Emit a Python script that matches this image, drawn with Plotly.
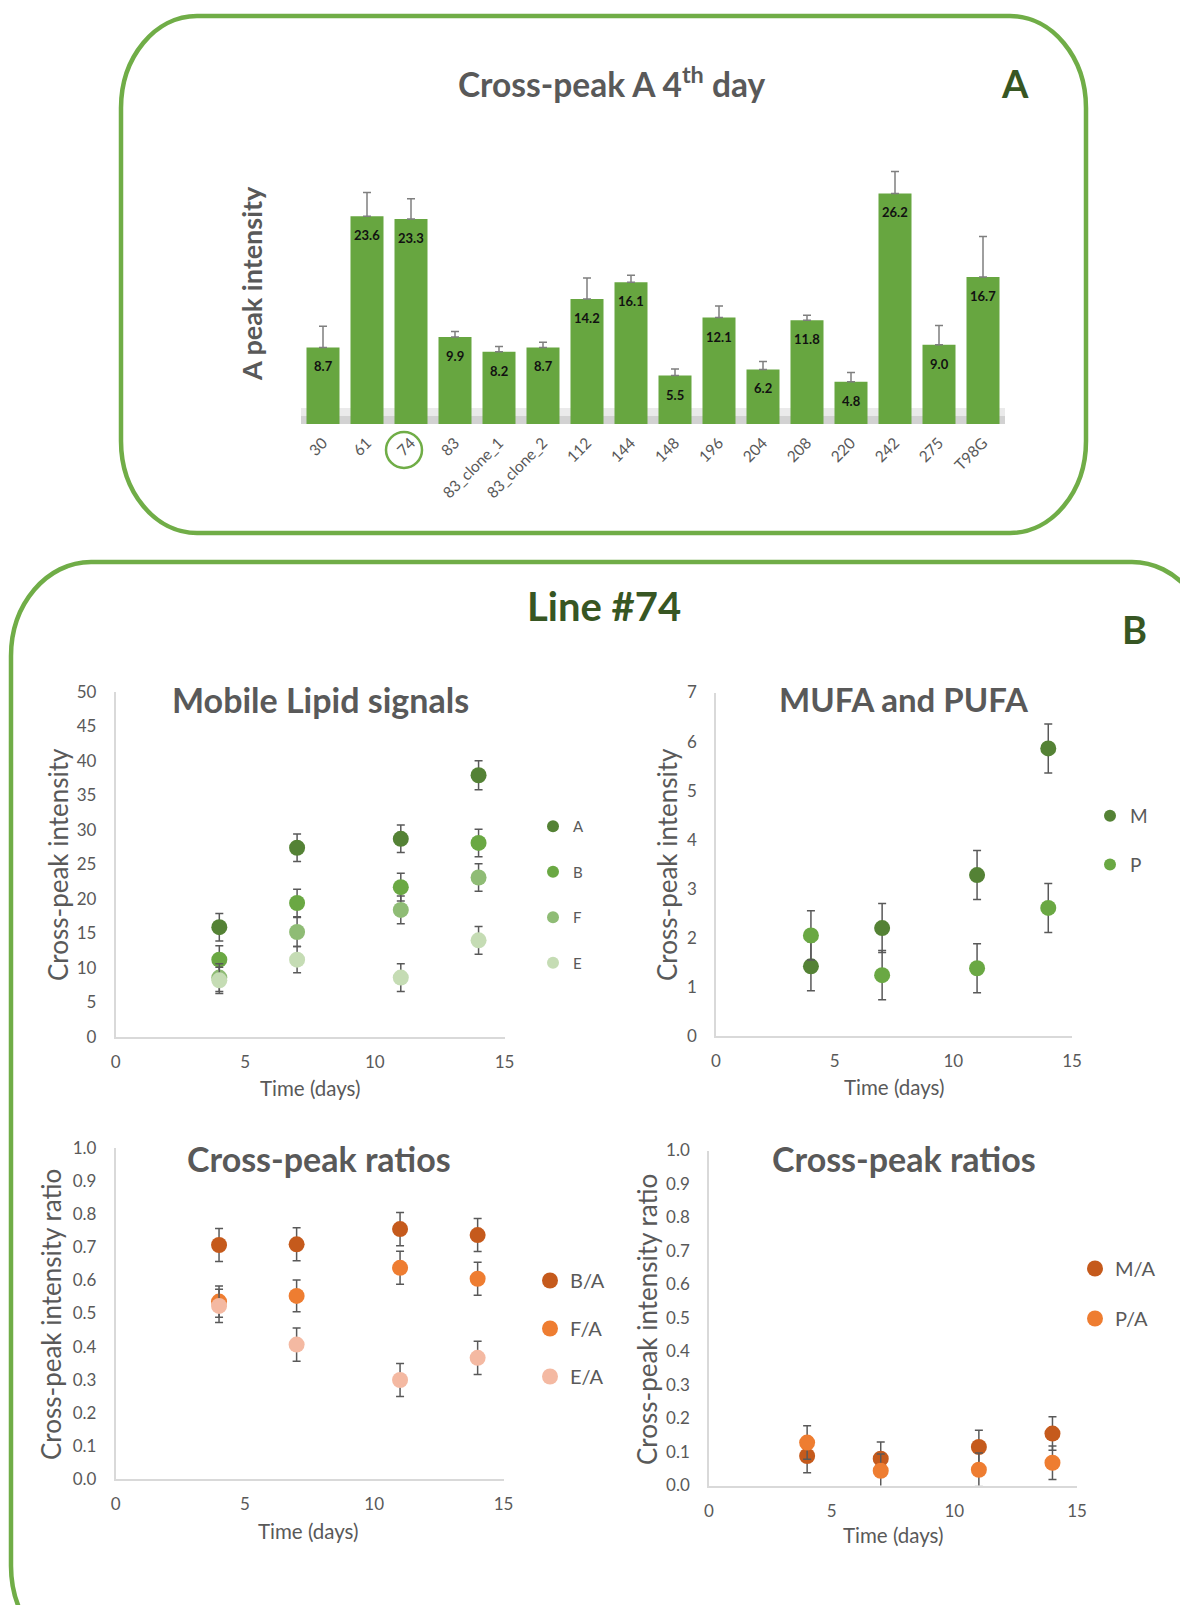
import plotly.graph_objects as go

# page body has an 8px margin: compensate so targets are in window pixels
OFF = 8
W, H = 1188 - OFF, 1605 - OFF
def fx(px): return (px - OFF) / W
def fy(py): return 1 - (py - OFF) / H

# ---------------- data ----------------
bar_labels = ["30", "61", "74", "83", "83_clone_1", "83_clone_2", "112", "144", "148",
              "196", "204", "208", "220", "242", "275", "T98G"]
bar_values = [8.7, 23.6, 23.3, 9.9, 8.2, 8.7, 14.2, 16.1, 5.5, 12.1, 6.2, 11.8, 4.8, 26.2, 9.0, 16.7]
bar_errors = [2.4, 2.7, 2.3, 0.6, 0.6, 0.6, 2.4, 0.8, 0.75, 1.3, 0.9, 0.55, 1.05, 2.5, 2.2, 4.6]

days = [4, 7, 11, 14]

lipid_A = [15.9, 27.4, 28.7, 37.9]
lipid_A_err = [2.0, 2.0, 2.0, 2.1]
lipid_B = [11.2, 19.4, 21.7, 28.1]
lipid_B_err = [2.0, 2.0, 2.0, 2.0]
lipid_F = [8.6, 15.2, 18.4, 23.1]
lipid_F_err = [2.0, 2.1, 2.0, 2.0]
lipid_E = [8.2, 11.2, 8.6, 14.0]
lipid_E_err = [1.9, 1.9, 2.0, 2.0]

mufa_M = [1.42, 2.2, 3.28, 5.86]
mufa_M_err = [0.5, 0.5, 0.5, 0.5]
pufa_P = [2.05, 1.24, 1.38, 2.61]
pufa_P_err = [0.5, 0.5, 0.5, 0.5]

ratio_BA = [0.707, 0.709, 0.755, 0.737]
ratio_BA_err = [0.05, 0.05, 0.05, 0.05]
ratio_FA = [0.536, 0.553, 0.638, 0.605]
ratio_FA_err = [0.047, 0.048, 0.05, 0.05]
ratio_EA = [0.523, 0.406, 0.299, 0.366]
ratio_EA_err = [0.05, 0.05, 0.05, 0.05]

ratio_MA = [0.088, 0.08, 0.115, 0.155]
ratio_MA_err = [0.05, 0.05, 0.05, 0.05]
ratio_PA = [0.128, 0.044, 0.047, 0.068]
ratio_PA_err = [0.05, 0.05, 0.05, 0.05]

# ---------------- style ----------------
FONT = "Lato"
GRAY = "#595959"
AXGRAY = "#d9d9d9"
BOXGREEN = "#70ad47"
DARKGREEN = "#375623"
C_A = "#548235"
C_B = "#6aa843"
C_F = "#8fbc75"
C_E = "#c5dcb4"
C_BA = "#c55a1c"
C_FA = "#ee7d31"
C_EA = "#f4b9a2"

fig = go.Figure()

# ---------------- panel A: bars ----------------
fig.add_trace(go.Bar(
    x=bar_labels, y=bar_values,
    error_y=dict(type="data", array=bar_errors, symmetric=False, arrayminus=[0]*len(bar_errors),
                 color="#7f7f7f", thickness=1.5, width=4),
    marker=dict(color="#67a640", line=dict(width=0)),
    xaxis="x", yaxis="y", showlegend=False, hoverinfo="skip"))

for i, v in enumerate(bar_values):
    fig.add_annotation(x=i, y=v, xref="x", yref="y", text=f"<b>{v:.1f}</b>",
                       showarrow=False, yshift=-19,
                       font=dict(family=FONT, size=13, color="#111111"))

def scatter(x, y, err, color, name, xa, ya, legend, size=16):
    fig.add_trace(go.Scatter(
        x=x, y=y, mode="markers", name=name,
        marker=dict(color=color, size=size, line=dict(width=0)),
        error_y=dict(type="data", array=err, color=GRAY, thickness=1.5, width=4),
        xaxis=xa, yaxis=ya, legend=legend, legendgroup=name + legend))

scatter(days, lipid_A, lipid_A_err, C_A, "A", "x2", "y2", "legend")
scatter(days, lipid_B, lipid_B_err, C_B, "B", "x2", "y2", "legend")
scatter(days, lipid_F, lipid_F_err, C_F, "F", "x2", "y2", "legend")
scatter(days, lipid_E, lipid_E_err, C_E, "E", "x2", "y2", "legend")

scatter(days, mufa_M, mufa_M_err, C_A, "M", "x3", "y3", "legend2")
scatter(days, pufa_P, pufa_P_err, C_B, "P", "x3", "y3", "legend2")

scatter(days, ratio_BA, ratio_BA_err, C_BA, "B/A", "x4", "y4", "legend3")
scatter(days, ratio_FA, ratio_FA_err, C_FA, "F/A", "x4", "y4", "legend3")
scatter(days, ratio_EA, ratio_EA_err, C_EA, "E/A", "x4", "y4", "legend3")

scatter(days, ratio_MA, ratio_MA_err, C_BA, "M/A", "x5", "y5", "legend4")
scatter(days, ratio_PA, ratio_PA_err, C_FA, "P/A", "x5", "y5", "legend4")

tickfont = dict(family=FONT, size=17, color=GRAY)

def xax(l, r, anchor):
    return dict(domain=[fx(l), fx(r)], range=[0, 15], tickvals=[0, 5, 10, 15], anchor=anchor,
                showline=True, linecolor=AXGRAY, linewidth=1.5, showgrid=False, zeroline=False,
                ticks="", ticklabelstandoff=9, tickfont=tickfont, fixedrange=True,
                automargin=False)

def yax(t, b, rng, dtick, anchor, fmt=None):
    d = dict(domain=[fy(b), fy(t)], range=rng, dtick=dtick, anchor=anchor,
             showline=True, linecolor=AXGRAY, linewidth=1.5, showgrid=False, zeroline=False,
             ticks="", ticklabelstandoff=14, tickfont=tickfont, fixedrange=True,
             automargin=False)
    if fmt:
        d["tickformat"] = fmt
    return d

legend_common = dict(xanchor="left", yanchor="top", bgcolor="rgba(0,0,0,0)", itemwidth=30)

fig.update_layout(
    width=W, height=H, margin=dict(l=0, r=0, t=0, b=0, autoexpand=False),
    paper_bgcolor="white", plot_bgcolor="rgba(0,0,0,0)",
    bargap=0.25,
    xaxis=dict(domain=[fx(301), fx(1005)], anchor="y", type="category", tickangle=-45,
               range=[-0.5, 15.5], automargin=False,
               showline=False, ticks="", showgrid=False, ticklabelstandoff=6,
               tickfont=dict(family=FONT, size=15.5, color=GRAY)),
    yaxis=dict(domain=[fy(424), fy(424 - 31 * 8.8)], range=[0, 31], anchor="x",
               visible=False, showgrid=False, automargin=False),
    xaxis2=xax(115.6, 504.5, "y2"),
    yaxis2=yax(691.7, 1037, [0, 50], 5, "x2"),
    xaxis3=xax(716, 1072, "y3"),
    yaxis3=yax(692.5, 1036, [0, 7], 1, "x3"),
    xaxis4=xax(115.6, 503.5, "y4"),
    yaxis4=yax(1148, 1479, [0, 1], 0.1, "x4", ".1f"),
    xaxis5=xax(709, 1077, "y5"),
    yaxis5=yax(1150.5, 1485.5, [0, 1], 0.1, "x5", ".1f"),
    legend=dict(x=fx(533), y=fy(810), itemsizing="constant", tracegroupgap=23,
                font=dict(family=FONT, size=15, color=GRAY), **legend_common),
    legend2=dict(x=fx(1090), y=fy(797), itemsizing="constant", tracegroupgap=21,
                 font=dict(family=FONT, size=19, color=GRAY), **legend_common),
    legend3=dict(x=fx(530), y=fy(1261), itemsizing="trace", tracegroupgap=19,
                 font=dict(family=FONT, size=20, color=GRAY), **legend_common),
    legend4=dict(x=fx(1075), y=fy(1249), itemsizing="trace", tracegroupgap=21,
                 font=dict(family=FONT, size=20, color=GRAY), **legend_common),
)

# ---------------- decorations ----------------
K = 0.5523
def rounded(l, t, r, b, rx, ry):
    p = []
    p.append(f"M {fx(l + rx)},{fy(t)}")
    p.append(f"L {fx(r - rx)},{fy(t)}")
    p.append(f"C {fx(r - rx + K*rx)},{fy(t)} {fx(r)},{fy(t + ry - K*ry)} {fx(r)},{fy(t + ry)}")
    p.append(f"L {fx(r)},{fy(b - ry)}")
    p.append(f"C {fx(r)},{fy(b - ry + K*ry)} {fx(r - rx + K*rx)},{fy(b)} {fx(r - rx)},{fy(b)}")
    p.append(f"L {fx(l + rx)},{fy(b)}")
    p.append(f"C {fx(l + rx - K*rx)},{fy(b)} {fx(l)},{fy(b - ry + K*ry)} {fx(l)},{fy(b - ry)}")
    p.append(f"L {fx(l)},{fy(t + ry)}")
    p.append(f"C {fx(l)},{fy(t + ry - K*ry)} {fx(l + rx - K*rx)},{fy(t)} {fx(l + rx)},{fy(t)}")
    p.append("Z")
    return " ".join(p)

shapes = [
    dict(type="path", path=rounded(121, 16, 1086, 533, 76, 92), xref="paper", yref="paper",
         line=dict(color=BOXGREEN, width=4.5), layer="below"),
    dict(type="path", path=rounded(11, 562, 1212, 1660, 80, 94), xref="paper", yref="paper",
         line=dict(color=BOXGREEN, width=4.5), layer="below"),
    dict(type="rect", x0=fx(301), x1=fx(1005), y0=fy(424), y1=fy(408), xref="paper", yref="paper",
         fillcolor="rgba(140,140,140,0.18)", line=dict(width=0), layer="below"),
    dict(type="rect", x0=fx(301), x1=fx(1005), y0=fy(424), y1=fy(416), xref="paper", yref="paper",
         fillcolor="rgba(140,140,140,0.25)", line=dict(width=0), layer="below"),
    dict(type="circle", x0=fx(386), x1=fx(422), y0=fy(432), y1=fy(468), xref="paper", yref="paper",
         line=dict(color=BOXGREEN, width=2.5)),
]
fig.update_layout(shapes=shapes)

def ann(x, y, text, size, color=GRAY, bold=False, angle=0):
    fig.add_annotation(x=fx(x), y=fy(y), xref="paper", yref="paper", showarrow=False,
                       text=f"<b>{text}</b>" if bold else text, textangle=angle,
                       xanchor="center", yanchor="middle",
                       font=dict(family=FONT, size=size, color=color))

ann(611, 82, "Cross-peak A 4<sup>th</sup> day", 33.5, bold=True)
ann(1015, 83, "A", 38, color=DARKGREEN, bold=True)
ann(251, 284, "A peak intensity", 27, bold=True, angle=-90)

ann(604, 606, "Line #74", 40, color=DARKGREEN, bold=True)
ann(1134, 629, "B", 38, color=DARKGREEN, bold=True)

ann(320, 699, "Mobile Lipid signals", 34, bold=True)
ann(904, 699, "MUFA and PUFA", 33, bold=True)
ann(319, 1158, "Cross-peak ratios", 34, bold=True)
ann(904, 1158, "Cross-peak ratios", 34, bold=True)

ann(58, 865, "Cross-peak intensity", 26, angle=-90)
ann(667, 865, "Cross-peak intensity", 26, angle=-90)
ann(51, 1315, "Cross-peak intensity ratio", 26, angle=-90)
ann(647, 1320, "Cross-peak intensity ratio", 26, angle=-90)

ann(310, 1088, "Time (days)", 20.5)
ann(894, 1087, "Time (days)", 20.5)
ann(308, 1531, "Time (days)", 20.5)
ann(893, 1535, "Time (days)", 20.5)

fig.write_html("out.html")
